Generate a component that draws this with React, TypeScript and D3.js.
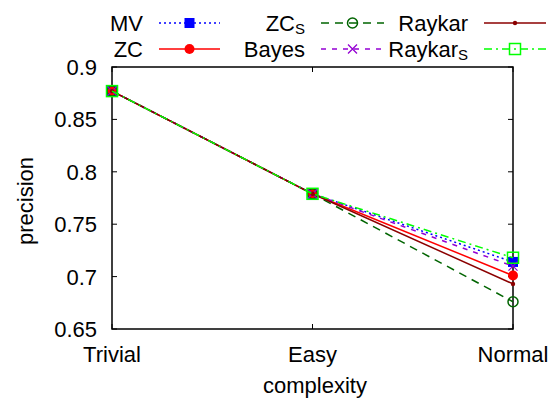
import * as d3 from "d3";
import React, { useRef, useEffect } from "react";

// chart values
const categories = ["Trivial", "Easy", "Normal"];
const yTicks = [0.65, 0.7, 0.75, 0.8, 0.85, 0.9];
const mv = [0.877, 0.779, 0.714];
const zc = [0.877, 0.779, 0.701];
const zcS = [0.877, 0.779, 0.676];
const bayes = [0.877, 0.779, 0.710];
const raykar = [0.877, 0.779, 0.693];
const raykarS = [0.877, 0.779, 0.718];

const W = 554;
const H = 404;
const margin = { top: 67, right: 41, bottom: 75, left: 112 };
const FONT = "'Liberation Sans', Arial, Helvetica, sans-serif";

type Series = {
  name: string;
  sub?: string;
  values: number[];
  color: string;
  dash: string;
  marker: string;
};

const series: Series[] = [
  { name: "MV", values: mv, color: "#0000ff", dash: "2,3", marker: "fsquare" },
  { name: "ZC", values: zc, color: "#ff0000", dash: "", marker: "fcircle" },
  { name: "ZC", sub: "S", values: zcS, color: "#006400", dash: "8,6", marker: "ocircle" },
  { name: "Bayes", values: bayes, color: "#9400d3", dash: "5,6", marker: "cross" },
  { name: "Raykar", values: raykar, color: "#8b0000", dash: "", marker: "dot" },
  { name: "Raykar", sub: "S", values: raykarS, color: "#00ff00", dash: "8,4,2,4", marker: "osquare" },
];

// legend: column-major, 2 rows
const legendCols = [
  { textRight: 143, x0: 159, x1: 220 },
  { textRight: 305, x0: 321, x1: 384 },
  { textRight: 468, x0: 484, x1: 546 },
];
const legendRows = [23, 49];

function drawMarker(g: any, kind: string, x: number, y: number, color: string) {
  if (kind === "fsquare") {
    g.append("rect").attr("x", x - 5).attr("y", y - 5).attr("width", 10).attr("height", 10).attr("fill", color);
  } else if (kind === "osquare") {
    g.append("rect").attr("x", x - 5.5).attr("y", y - 5.5).attr("width", 11).attr("height", 11)
      .attr("fill", "none").attr("stroke", color).attr("stroke-width", 1.5);
  } else if (kind === "fcircle") {
    g.append("circle").attr("cx", x).attr("cy", y).attr("r", 5).attr("fill", color);
  } else if (kind === "ocircle") {
    g.append("circle").attr("cx", x).attr("cy", y).attr("r", 5).attr("fill", "none")
      .attr("stroke", color).attr("stroke-width", 1.5);
  } else if (kind === "dot") {
    g.append("circle").attr("cx", x).attr("cy", y).attr("r", 2.2).attr("fill", color);
  } else if (kind === "cross") {
    const s = 4.5;
    g.append("path").attr("d", `M${x - s},${y - s}L${x + s},${y + s}M${x - s},${y + s}L${x + s},${y - s}`)
      .attr("stroke", color).attr("stroke-width", 1.3).attr("fill", "none");
  }
}

function Chart() {
  const ref = useRef<SVGSVGElement>(null);

  useEffect(() => {
    const svg = d3.select(ref.current);
    svg.selectAll("*").remove();

    const x = d3.scalePoint().domain(categories).range([margin.left, W - margin.right]);
    const y = d3.scaleLinear().domain([0.65, 0.9]).range([H - margin.bottom, margin.top]);
    const x0 = margin.left;
    const x1 = W - margin.right;
    const y0 = H - margin.bottom;
    const y1 = margin.top;

    // y ticks (inner, mirrored)
    yTicks.forEach((t) => {
      const yy = y(t);
      svg.append("line").attr("x1", x0).attr("x2", x0 + 5).attr("y1", yy).attr("y2", yy)
        .attr("stroke", "#000").attr("stroke-width", 1);
      svg.append("line").attr("x1", x1 - 5).attr("x2", x1).attr("y1", yy).attr("y2", yy)
        .attr("stroke", "#000").attr("stroke-width", 1);
      svg.append("text").attr("x", 97).attr("y", yy).attr("dy", "0.36em")
        .attr("text-anchor", "end").attr("font-size", 22).attr("font-family", FONT)
        .text(String(t));
    });

    // x ticks
    categories.forEach((c) => {
      const xx = x(c) as number;
      svg.append("line").attr("x1", xx).attr("x2", xx).attr("y1", y0).attr("y2", y0 - 5)
        .attr("stroke", "#000").attr("stroke-width", 1);
      svg.append("line").attr("x1", xx).attr("x2", xx).attr("y1", y1).attr("y2", y1 + 5)
        .attr("stroke", "#000").attr("stroke-width", 1);
      svg.append("text").attr("x", xx).attr("y", 362).attr("text-anchor", "middle")
        .attr("font-size", 22).attr("font-family", FONT).text(c);
    });

    // frame
    svg.append("rect").attr("x", x0).attr("y", y1).attr("width", x1 - x0).attr("height", y0 - y1)
      .attr("fill", "none").attr("stroke", "#000").attr("stroke-width", 1.5);

    // axis titles
    svg.append("text").attr("x", 315).attr("y", 393).attr("text-anchor", "middle")
      .attr("font-size", 22).attr("font-family", FONT).text("complexity");
    svg.append("text").attr("transform", "translate(33,201) rotate(-90)").attr("text-anchor", "middle")
      .attr("font-size", 22).attr("font-family", FONT).text("precision");

    const line = d3.line<number>()
      .x((_, i) => x(categories[i]) as number)
      .y((d) => y(d));

    series.forEach((s) => {
      svg.append("path").attr("d", line(s.values)).attr("fill", "none")
        .attr("stroke", s.color).attr("stroke-width", 1.5)
        .attr("stroke-dasharray", s.dash || null);
      const g = svg.append("g");
      s.values.forEach((v, i) => drawMarker(g, s.marker, x(categories[i]) as number, y(v), s.color));
    });

    // legend
    series.forEach((s, i) => {
      const col = legendCols[Math.floor(i / 2)];
      const ly = legendRows[i % 2];
      const t = svg.append("text").attr("x", col.textRight).attr("y", ly).attr("dy", "0.36em")
        .attr("text-anchor", "end").attr("font-size", 22).attr("font-family", FONT);
      t.append("tspan").text(s.name);
      if (s.sub) t.append("tspan").attr("font-size", 15).attr("dy", 3).text(s.sub);
      svg.append("line").attr("x1", col.x0).attr("x2", col.x1).attr("y1", ly).attr("y2", ly)
        .attr("stroke", s.color).attr("stroke-width", 1.5).attr("stroke-dasharray", s.dash || null);
      drawMarker(svg.append("g"), s.marker, (col.x0 + col.x1) / 2, ly, s.color);
    });
  }, []);

  return <svg ref={ref} width={W} height={H} style={{ position: "absolute", left: 0, top: 0, background: "#fff" }} />;
}

export default function App() {
  return <Chart />;
}
